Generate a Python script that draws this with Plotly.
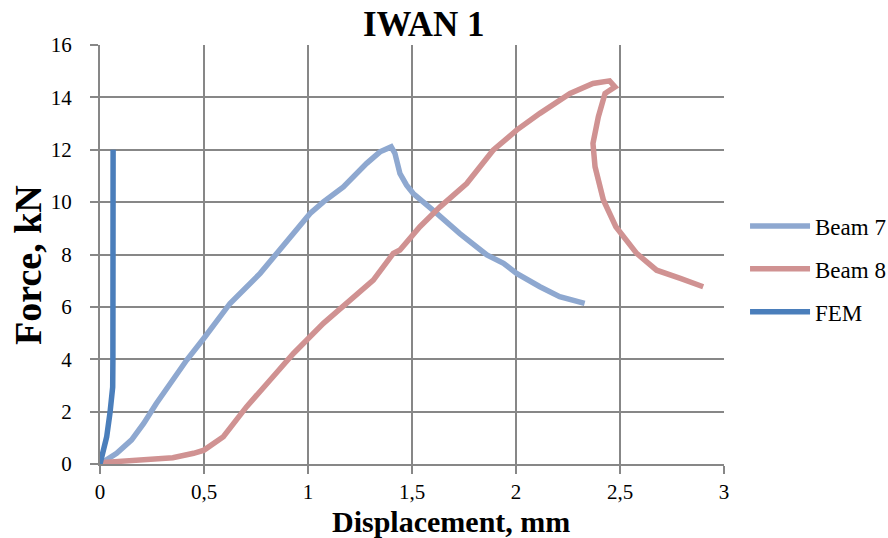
import plotly.graph_objects as go

# Load–displacement curves, IWAN 1
beam7_disp = [0.0, 0.08, 0.152, 0.21, 0.27, 0.417, 0.505, 0.625, 0.77, 0.913, 1.01, 1.074,
              1.17, 1.282, 1.346, 1.40, 1.418, 1.442, 1.474, 1.506, 1.538, 1.619, 1.73,
              1.86, 1.94, 2.003, 2.115, 2.21, 2.33]
beam7_force = [0.0, 0.41, 0.92, 1.55, 2.3, 3.97, 4.86, 6.13, 7.28, 8.68, 9.57, 10.01,
               10.58, 11.48, 11.92, 12.11, 11.86, 11.09, 10.65, 10.33, 10.1, 9.57, 8.80,
               7.98, 7.66, 7.28, 6.77, 6.39, 6.13]

beam8_disp = [0.0, 0.19, 0.35, 0.45, 0.50, 0.593, 0.705, 0.817, 0.93, 1.074, 1.186, 1.314,
              1.41, 1.442, 1.538, 1.635, 1.763, 1.89, 2.003, 2.115, 2.26, 2.37, 2.45,
              2.476, 2.428, 2.396, 2.37, 2.38, 2.42, 2.48, 2.58, 2.676, 2.79, 2.9]
beam8_force = [0.05, 0.13, 0.24, 0.41, 0.53, 1.04, 2.19, 3.2, 4.22, 5.37, 6.13, 7.02,
               8.04, 8.17, 9.06, 9.82, 10.71, 11.98, 12.75, 13.39, 14.15, 14.53, 14.63,
               14.40, 14.15, 13.26, 12.24, 11.35, 10.08, 9.06, 8.04, 7.40, 7.09, 6.77]

fem_disp = [0.0, 0.015, 0.032, 0.048, 0.056, 0.061, 0.062, 0.062, 0.063]
fem_force = [0.0, 0.5, 1.03, 1.95, 2.5, 2.94, 4.0, 8.0, 12.0]

x_ticks = [0, 0.5, 1, 1.5, 2, 2.5, 3]
x_tick_labels = ["0", "0,5", "1", "1,5", "2", "2,5", "3"]
y_ticks = [0, 2, 4, 6, 8, 10, 12, 14, 16]

FONT = "Liberation Serif, Times New Roman, serif"
GRID = "#878787"

fig = go.Figure()
fig.add_trace(go.Scatter(x=beam7_disp, y=beam7_force, mode="lines", name="Beam 7",
                         line=dict(color="#8EA8D0", width=5.5), legendgroup="a"))
fig.add_trace(go.Scatter(x=beam8_disp, y=beam8_force, mode="lines", name="Beam 8",
                         line=dict(color="#D09292", width=5.5), legendgroup="b"))
fig.add_trace(go.Scatter(x=fem_disp, y=fem_force, mode="lines", name="FEM",
                         line=dict(color="#4A7EBB", width=5.5), legendgroup="c"))

axis_common = dict(showgrid=True, gridcolor=GRID, gridwidth=2,
                   showline=True, linecolor=GRID, linewidth=2,
                   ticks="outside", ticklen=8, tickcolor=GRID, tickwidth=2,
                   zeroline=False, automargin=False, tickfont=dict(size=21))

fig.update_layout(
    width=888, height=538,
    margin=dict(l=100, r=164, t=45, b=74, autoexpand=False),
    paper_bgcolor="white", plot_bgcolor="white",
    font=dict(family=FONT, size=21, color="black"),
    showlegend=True,
    legend=dict(xref="container", yref="container", x=0.839, y=0.62,
                xanchor="left", yanchor="top",
                font=dict(family=FONT, size=23), tracegroupgap=10,
                itemwidth=60, bgcolor="rgba(0,0,0,0)"),
    xaxis=dict(range=[0, 3], tickvals=x_ticks, ticktext=x_tick_labels,
               ticklabelstandoff=0, **axis_common),
    yaxis=dict(range=[0, 16], tickvals=y_ticks, ticklabelstandoff=14, **axis_common),
    annotations=[
        dict(text="<b>IWAN 1</b>", x=0.519, y=1.048, xref="paper", yref="paper",
             showarrow=False, font=dict(size=35, family=FONT), xanchor="center", yanchor="middle"),
        dict(text="<b>Displacement, mm</b>", x=0.5625, y=-0.138, xref="paper", yref="paper",
             showarrow=False, font=dict(size=30, family=FONT), xanchor="center", yanchor="middle"),
        dict(text="<b>Force, kN</b>", x=-0.1154, y=0.475, xref="paper", yref="paper",
             showarrow=False, font=dict(size=38, family=FONT), textangle=-90,
             xanchor="center", yanchor="middle"),
    ],
)

fig.write_html("out.html")
